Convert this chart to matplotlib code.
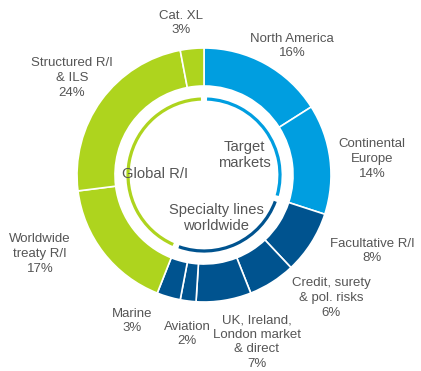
import numpy as np
import matplotlib
matplotlib.use("Agg")
import matplotlib.pyplot as plt
from matplotlib.patches import Arc

plt.rcParams['font.family'] = ['Liberation Sans', 'DejaVu Sans']

# segments clockwise from 12 o'clock
labels = ["North America", "Continental\nEurope", "Facultative R/I",
          "Credit, surety\n& pol. risks", "UK, Ireland,\nLondon market\n& direct",
          "Aviation", "Marine", "Worldwide\ntreaty R/I", "Structured R/I\n& ILS", "Cat. XL"]
shares = [16, 14, 8, 6, 7, 2, 3, 17, 24, 3]
groups = ["target", "target", "special", "special", "special", "special", "special",
          "global", "global", "global"]

group_names = {"target": "Target\nmarkets",
               "special": "Specialty lines\nworldwide",
               "global": "Global R/I"}
group_colors = {"target": "#009ee0", "special": "#00538f", "global": "#aed41e"}

# label centres, pixels from the ring centre (x right, y up)
label_pos = [(88, 129), (168, 16), (168, -76), (127, -123), (53, -167),
             (-17, -159), (-72, -146), (-164, -79), (-132, 97), (-23, 152)]
group_pos = {"target": (40, 20), "special": (12, -43), "global": (-49, 1)}

fig = plt.figure(figsize=(4.21, 3.71), dpi=100)
ax = fig.add_axes([0, 0, 1, 1])

R = 127
colors = [group_colors[g] for g in groups]
ax.pie(shares, radius=R, startangle=90, counterclock=False, colors=colors,
       wedgeprops=dict(width=38, edgecolor="white", linewidth=1.2), center=(0, 0))
ax.set_xlim(-204, 217)
ax.set_ylim(-196, 175)
ax.set_aspect("equal")
ax.axis("off")

for lab, s, (x, y) in zip(labels, shares, label_pos):
    ax.text(x, y, f"{lab}\n{s}%", ha="center", va="center", fontsize=9.5,
            color="#555555", linespacing=1.28)

# inner arcs, one per group
start = 90.0
gap = 2.3
for g in ["target", "special", "global"]:
    total = sum(s for s, gg in zip(shares, groups) if gg == g)
    end = start - total * 3.6
    ax.add_patch(Arc((0, 0), 152, 152, theta1=end + gap, theta2=start - gap,
                     color=group_colors[g], lw=2.3))
    start = end

for g, (x, y) in group_pos.items():
    ax.text(x, y, group_names[g], ha="center", va="center", fontsize=10.6,
            color="#555555", linespacing=1.22)

fig.savefig("out.png", dpi=100)
